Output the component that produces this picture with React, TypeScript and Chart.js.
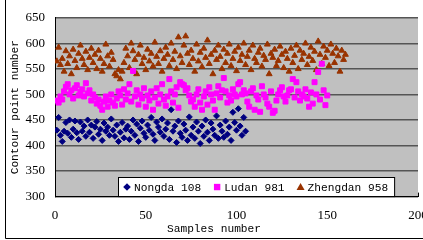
import React, { useEffect, useRef } from "react";
import { Chart, registerables } from "chart.js";

Chart.register(...registerables);

const seriesNames = ["Nongda 108", "Ludan 981", "Zhengdan 958"];
const seriesColors = ["#000080", "#ff00ff", "#993300"];
const seriesShapes = ["rectRot", "rect", "triangle"];

const xTitle = "Samples number";
const yTitle = "Contour point number";
const xRange = [0, 200, 50];
const yRange = [300, 650, 50];

const nongda = [
  430, 455, 420, 408, 428, 445, 424, 450, 416, 432,
  448, 425, 412, 446, 428, 438, 418, 450, 426, 440,
  414, 436, 447, 422, 432, 410, 444, 428, 436, 420,
  452, 430, 418, 440, 408, 426, 445, 415, 432, 438,
  412, 428, 450, 420, 442, 408, 434, 448, 424, 416,
  440, 430, 455, 422, 410, 446, 436, 426, 452, 418,
  432, 444, 412, 470, 428, 438, 406, 448, 424, 416,
  442, 430, 410, 456, 420, 436, 414, 446, 428, 404,
  438, 418, 450, 426, 410, 444, 432, 420, 458, 414,
  440, 428, 416, 448, 422, 436, 410, 465, 445, 430,
  472, 438, 420, 455, 428,
];

const ludan = [
  488, 484, 496, 490, 506, 515, 520, 500, 508, 492,
  512, 518, 498, 505, 510, 496, 522, 502, 508, 488,
  500, 494, 482, 490, 478, 470, 486, 496, 476, 488,
  500, 484, 478, 492, 506, 498, 480, 510, 490, 502,
  520, 486, 546, 496, 508, 480, 500, 492, 512, 476,
  498, 488, 506, 470, 494, 512, 482, 500, 520, 490,
  478, 496, 530, 506, 484, 500, 514, 474, 524, 520,
  518, 508, 512, 498, 486, 490, 476, 500, 510, 484,
  470, 496, 506, 480, 514, 500, 488, 470, 502, 516,
  494, 508, 532, 506, 484, 498, 488, 510, 500, 496,
  520, 524, 500, 508, 502, 486, 476, 506, 512, 470,
  498, 490, 466, 516, 500, 494, 482, 476, 506, 464,
  468, 488, 500, 508, 514, 496, 486, 498, 508, 510,
  530, 494, 524, 506, 488, 500, 496, 510, 492, 476,
  504, 482, 524, 500, 544, 490, 560, 508, 479, 498,
];

const zhengdan = [
  565, 592, 558, 570, 545, 585, 560, 575, 540, 588,
  566, 552, 580, 596, 570, 558, 584, 548, 572, 590,
  562, 578, 550, 586, 570, 545, 560, 598, 575, 555,
  582, 568, 540, 536, 548, 530, 545, 562, 590, 575,
  552, 600, 585, 568, 540, 578, 596, 560, 572, 548,
  588, 565, 580, 555, 602, 574, 560, 585, 545, 570,
  592, 578, 556, 600, 568, 584, 550, 612, 575, 562,
  596, 614, 580, 558, 586, 570, 545, 598, 565, 582,
  554, 590, 572, 606, 560, 578, 540, 586, 568, 596,
  574, 550, 588, 562, 580, 598, 556, 570, 584, 546,
  592, 566, 578, 600, 558, 574, 586, 548, 596, 570,
  562, 582, 590, 555, 576, 568, 598, 540, 580, 572,
  588, 556, 566, 594, 578, 552, 584, 570, 545, 590,
  562, 576, 596, 550, 586, 568, 580, 600, 558, 574,
  592, 566, 584, 548, 604, 578, 560, 594, 572, 586,
  556, 598, 580, 562, 590, 575, 545, 586, 568, 578,
];

const seriesValues = [nongda, ludan, zhengdan];

const toPoints = (arr: number[]) => arr.map((v, i) => ({ x: i + 1, y: v }));

const MONO = "'Liberation Mono', 'DejaVu Sans Mono', monospace";
const SERIF = "'Liberation Serif', 'Times New Roman', serif";
const TITLE_SIZE = 11.2;

function drawMarker(ctx: CanvasRenderingContext2D, shape: string, x: number, y: number, color: string) {
  ctx.save();
  ctx.fillStyle = color;
  ctx.beginPath();
  if (shape === "rectRot") {
    const r = 3.8;
    ctx.moveTo(x, y - r);
    ctx.lineTo(x + r, y);
    ctx.lineTo(x, y + r);
    ctx.lineTo(x - r, y);
  } else if (shape === "rect") {
    const s = 3.2;
    ctx.rect(x - s, y - s, 2 * s, 2 * s);
  } else {
    ctx.moveTo(x, y - 4);
    ctx.lineTo(x + 4, y + 3);
    ctx.lineTo(x - 4, y + 3);
  }
  ctx.closePath();
  ctx.fill();
  ctx.restore();
}

const decorPlugin = {
  id: "decor",
  beforeDraw(chart: any) {
    const { ctx, chartArea: a } = chart;
    ctx.save();
    ctx.fillStyle = "#c0c0c0";
    ctx.fillRect(a.left, a.top, a.right - a.left, a.bottom - a.top);
    ctx.restore();
  },
  afterDraw(chart: any) {
    const { ctx, chartArea: a } = chart;
    const xs = chart.scales.x;
    ctx.save();
    // inner tick marks on x axis
    ctx.strokeStyle = "#000";
    ctx.lineWidth = 1;
    ctx.beginPath();
    xs.ticks.forEach((t: any) => {
      const px = Math.round(xs.getPixelForValue(t.value)) + 0.5;
      ctx.moveTo(px, a.bottom);
      ctx.lineTo(px, a.bottom - 4);
    });
    ctx.stroke();

    // x axis title (offset left as in the original figure)
    ctx.font = `${TITLE_SIZE}px ${MONO}`;
    ctx.fillStyle = "#000";
    ctx.textAlign = "center";
    ctx.textBaseline = "middle";
    ctx.fillText(xTitle, 214, 229);

    // legend box
    ctx.font = `${TITLE_SIZE}px ${MONO}`;
    const boxLeft = 118;
    const boxTop = 177;
    const boxBottom = a.bottom - 0.5;
    let cx = boxLeft + 9;
    const positions: { m: number; t: number }[] = [];
    seriesNames.forEach((name) => {
      const w = ctx.measureText(name).width;
      positions.push({ m: cx, t: cx + 7 });
      cx = cx + 7 + w + 16;
    });
    const boxRight = cx - 16 + 6;
    ctx.fillStyle = "#ffffff";
    ctx.fillRect(boxLeft, boxTop, boxRight - boxLeft, boxBottom - boxTop);
    ctx.strokeStyle = "#000";
    ctx.strokeRect(boxLeft + 0.5, boxTop + 0.5, boxRight - boxLeft, boxBottom - boxTop);
    const midY = (boxTop + boxBottom) / 2 + 0.5;
    seriesNames.forEach((name, i) => {
      drawMarker(ctx, seriesShapes[i], positions[i].m, midY, seriesColors[i]);
      ctx.fillStyle = "#000";
      ctx.textBaseline = "middle";
      ctx.textAlign = "left";
      ctx.fillText(name, positions[i].t, midY + 0.5);
    });

    // outer frame (left & bottom visible)
    ctx.strokeStyle = "#000";
    ctx.lineWidth = 1;
    ctx.beginPath();
    ctx.moveTo(5.5, 0);
    ctx.lineTo(5.5, 238.5);
    ctx.lineTo(423, 238.5);
    ctx.stroke();
    ctx.restore();
  },
};

export default function App() {
  const ref = useRef<HTMLCanvasElement | null>(null);

  useEffect(() => {
    document.body.style.margin = "0";
    if (!ref.current) return;
    const chart = new Chart(ref.current, {
      type: "scatter",
      data: {
        datasets: seriesNames.map((name, i) => ({
          label: name,
          data: toPoints(seriesValues[i]),
          pointStyle: seriesShapes[i] as any,
          backgroundColor: seriesColors[i],
          borderColor: seriesColors[i],
          borderWidth: 1,
          pointRadius: i === 0 ? 3 : i === 1 ? 3.5 : 3.4,
        })),
      },
      options: {
        responsive: false,
        animation: false,
        events: [],
        layout: { padding: { left: 0, right: 4, top: 15, bottom: 0 } },
        plugins: {
          legend: { display: false },
          tooltip: { enabled: false },
        },
        scales: {
          x: {
            type: "linear",
            min: xRange[0],
            max: xRange[1],
            ticks: {
              stepSize: xRange[2],
              color: "#000",
              font: { family: SERIF, size: 13 },
              padding: 11,
              maxRotation: 0,
            },
            grid: { display: true, drawOnChartArea: false, drawTicks: false },
            border: { color: "#000", width: 1 },
            title: { display: false, text: xTitle },
            afterFit: (s: any) => {
              s.height = 43.4;
              s.paddingLeft = 0;
              s.paddingRight = 0;
            },
          },
          y: {
            type: "linear",
            min: yRange[0],
            max: yRange[1],
            ticks: {
              stepSize: yRange[2],
              color: "#000",
              font: { family: SERIF, size: 13 },
              padding: 10,
            },
            grid: { color: "#555555", lineWidth: 1.5, drawTicks: false },
            border: { color: "#000", width: 1 },
            title: {
              display: true,
              text: yTitle,
              color: "#000",
              font: { family: MONO, size: TITLE_SIZE },
              padding: { top: 8, bottom: 0 },
            },
            afterFit: (s: any) => {
              s.width = 55;
            },
          },
        },
      },
      plugins: [decorPlugin],
    });
    return () => chart.destroy();
  }, []);

  return (
    <div style={{ width: 423, height: 240, overflow: "hidden", background: "#fff" }}>
      <canvas ref={ref} width={423} height={240} style={{ display: "block" }} />
    </div>
  );
}
